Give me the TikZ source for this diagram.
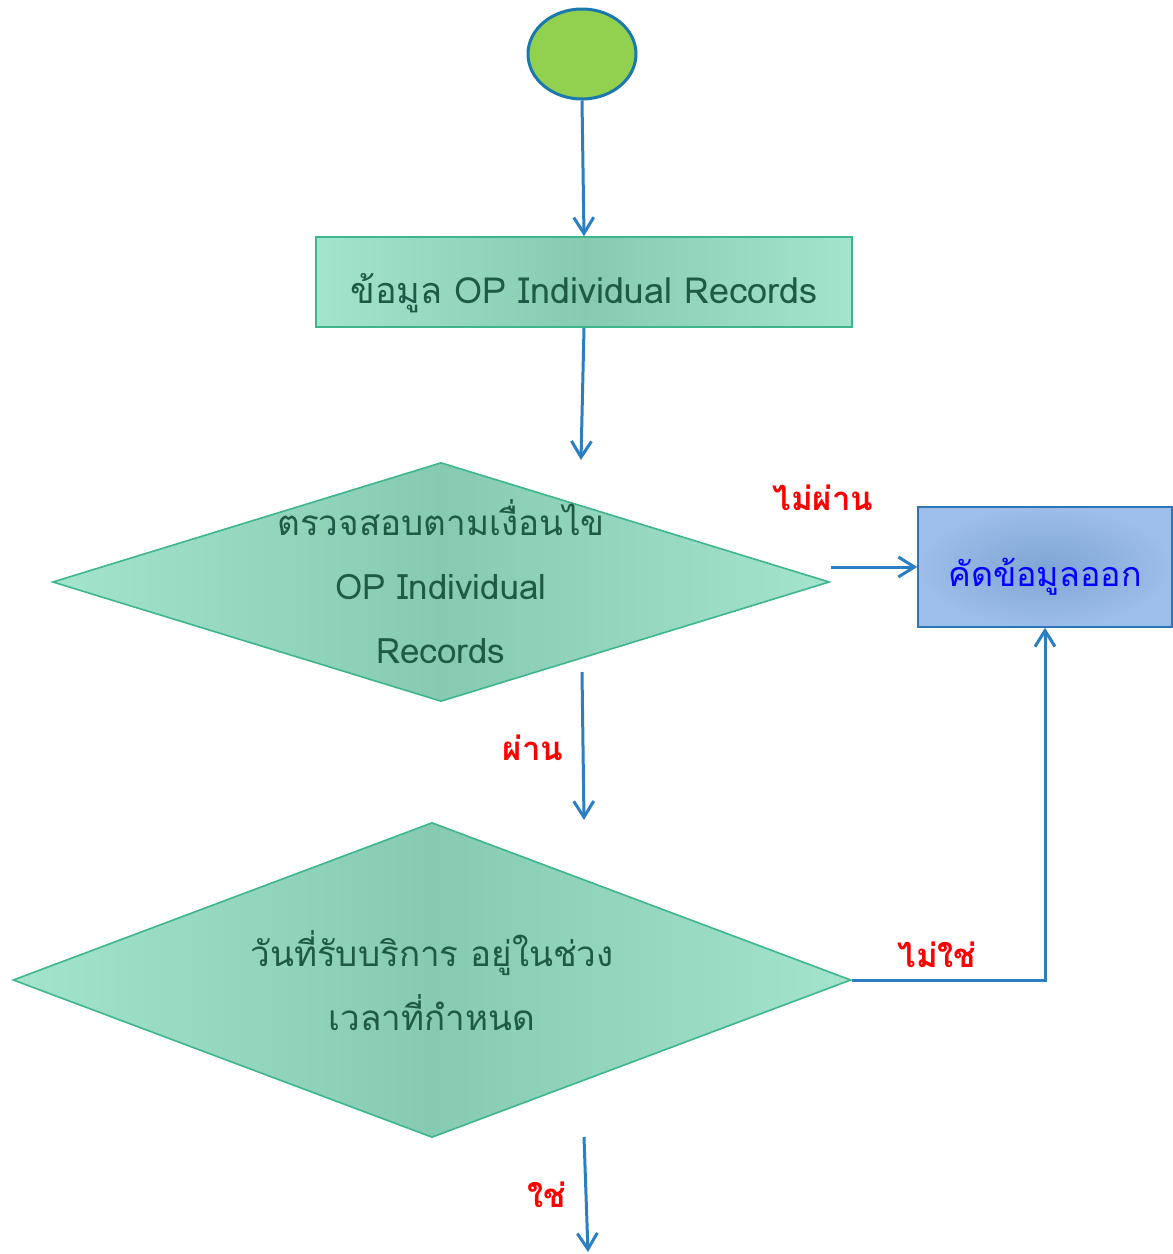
\documentclass[tikz,border=0pt]{standalone}
\usepackage{fontspec}
\newfontfamily\thaifont[Script=Thai]{Loma}
\usetikzlibrary{shapes.geometric,arrows.meta}
\definecolor{lineblue}{HTML}{2B7EC1}
\definecolor{startgreen}{HTML}{92D050}
\definecolor{startedge}{HTML}{1B78AE}
\definecolor{boxedge}{HTML}{3DB58D}
\definecolor{boxlight}{HTML}{A3E4CC}
\definecolor{boxdark}{HTML}{86CBB1}
\definecolor{txtgreen}{HTML}{1E5A45}
\definecolor{outlight}{HTML}{9DBDEA}
\definecolor{outdark}{HTML}{7EA6D4}
\definecolor{outedge}{HTML}{2E75B6}

\begin{document}
\begin{tikzpicture}[x=0.5pt,y=-0.5pt,
        arr/.style={lineblue,line width=1.5pt,-{Straight Barb[length=8pt,width=10pt,line width=1.5pt]}},
        greenbox/.style={draw=boxedge,line width=0.8pt,left color=boxlight,right color=boxlight,middle color=boxdark},
        dia/.style={diamond,greenbox,inner sep=0pt},
        txt/.style={font=\thaifont\fontsize{17.5}{32}\selectfont,text=txtgreen,align=center},
        lab/.style={font=\thaifont\bfseries\fontsize{16.5}{20}\selectfont,text=red}]
        \useasboundingbox (0,0) rectangle (1173,1254);

        % start
        \node[ellipse,draw=startedge,line width=1.5pt,fill=startgreen,minimum width=54pt,minimum height=45pt,inner sep=0pt] (start) at (582,54) {};

        % data
        \node[rectangle,greenbox,minimum width=268pt,minimum height=45pt] (data) at (584,282) {};
        \node[txt,font=\thaifont\fontsize{18}{24}\selectfont,anchor=base] (datatxt) at (584,303) {ข้อมูล OP Individual Records};

        % first check
        \node[dia,minimum width=388.5pt,minimum height=119.5pt] (check) at (441,582) {};
        \node[txt] (checktxt) at (441,582) {ตรวจสอบตามเงื่อนไข\\OP Individual\\Records};

        % drop
        \node[rectangle,draw=outedge,line width=0.8pt,inner color=outdark,outer color=outlight,minimum width=127pt,minimum height=60pt] (drop) at (1045,567) {};
        \node[font=\thaifont\fontsize{17}{20}\selectfont,text=blue,anchor=base] (droptxt) at (1045,586) {คัดข้อมูลออก};

        % date check
        \node[dia,minimum width=419pt,minimum height=157.5pt] (date) at (432,980) {};
        \node[txt] (datetxt) at (432,981) {วันที่รับบริการ อยู่ในช่วง\\เวลาที่กำหนด};

        \coordinate (dataend) at (581,460);
        \coordinate (failstart) at (831,567);
        \coordinate (passstart) at (582,672);
        \coordinate (passend) at (584,820);
        \coordinate (yesstart) at (584,1137);
        \coordinate (yesend) at (588,1252);

        \draw[arr](start.south)--(data.north);
        \draw[arr](data.south)--(dataend);
        \draw[arr](failstart)--(drop.west);
        \draw[arr](passstart)--(passend);
        \draw[arr](date.east)--(date.east -| drop)--(drop.south);
        \draw[arr](yesstart)--(yesend);

        \node[lab] (fail) at (823,498) {ไม่ผ่าน};
        \node[lab] (pass) at (533,748) {ผ่าน};
        \node[lab] (notin) at (937,955) {ไม่ใช่};
        \node[lab] (yes) at (547,1195) {ใช่};
    \end{tikzpicture}
\end{document}
